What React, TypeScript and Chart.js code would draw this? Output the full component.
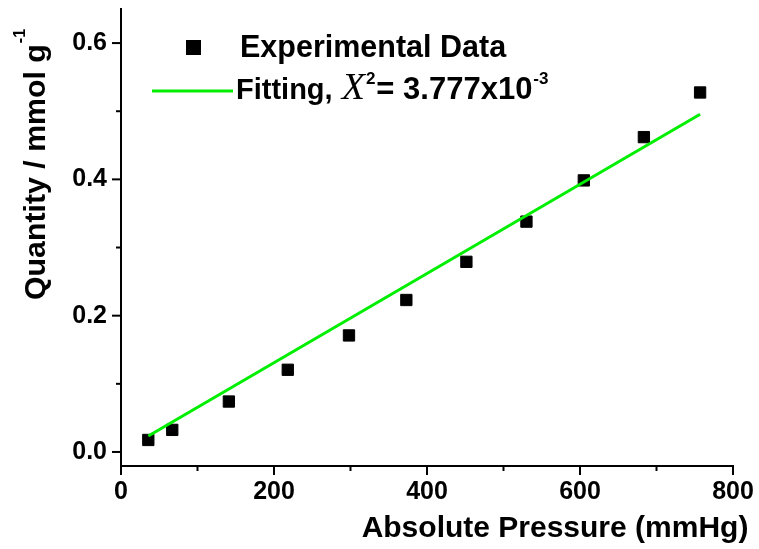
import React, { useEffect, useRef } from 'react';
import { Chart, registerables } from 'chart.js';

Chart.register(...registerables);

// ---- data ----
const pressure = [35.7, 67, 141, 218, 298, 373, 451.5, 530, 605, 683.5, 757];
const quantity = [0.0176, 0.0324, 0.074, 0.1206, 0.171, 0.223, 0.279, 0.338, 0.3985, 0.462, 0.5275];
const fitPressure = [35.7, 757];
const fitQuantity = [0.0235, 0.4956];

const xMajorTicks = [0, 200, 400, 600, 800];
const xMinorTicks = [100, 300, 500, 700];
const yMajorTicks = [0, 0.2, 0.4, 0.6];
const yMinorTicks = [0.1, 0.3, 0.5];

const xTitle = 'Absolute Pressure (mmHg)';
const yTitle = 'Quantity / mmol g';
const yTitleSup = '-1';
const legendData = 'Experimental Data';
const legendFit = 'Fitting, ';
const chiSymbol = 'X';
const chiSup = '2';
const chiValue = '= 3.777x10';
const chiExp = '-3';

const SANS = "'Liberation Sans', Arial, sans-serif";
const SERIF = "'Liberation Serif', 'Times New Roman', serif";
const FIT_COLOR = '#00ee00';

const decorPlugin = {
  id: 'decor',
  afterDraw(chart: any) {
    const { ctx, chartArea, scales } = chart;
    const xs = scales.x;
    const ys = scales.y;
    const line = (x1: number, y1: number, x2: number, y2: number) => {
      ctx.beginPath();
      ctx.moveTo(x1, y1);
      ctx.lineTo(x2, y2);
      ctx.stroke();
    };
    ctx.save();
    ctx.strokeStyle = '#000';
    ctx.lineWidth = 2;
    yMajorTicks.forEach((v) => {
      const p = ys.getPixelForValue(v);
      line(chartArea.left - 9, p, chartArea.left, p);
    });
    yMinorTicks.forEach((v) => {
      const p = ys.getPixelForValue(v);
      line(chartArea.left - 5, p, chartArea.left, p);
    });
    xMajorTicks.forEach((v) => {
      const p = xs.getPixelForValue(v);
      line(p, chartArea.bottom, p, chartArea.bottom + 9);
    });
    xMinorTicks.forEach((v) => {
      const p = xs.getPixelForValue(v);
      line(p, chartArea.bottom, p, chartArea.bottom + 5);
    });

    ctx.fillStyle = '#000';
    ctx.textBaseline = 'alphabetic';

    // x title
    ctx.font = `bold 30px ${SANS}`;
    ctx.textAlign = 'center';
    ctx.fillText(xTitle, 555, 537);

    // y title (rotated)
    ctx.save();
    ctx.translate(45, 300);
    ctx.rotate(-Math.PI / 2);
    ctx.textAlign = 'left';
    ctx.font = `bold 30.3px ${SANS}`;
    ctx.fillText(yTitle, 0, 0);
    const wy = ctx.measureText(yTitle).width;
    ctx.font = `bold 16px ${SANS}`;
    ctx.fillText(yTitleSup, wy + 1, -20);
    ctx.restore();

    // legend
    ctx.textAlign = 'left';
    ctx.fillRect(186, 40, 15, 15);
    ctx.strokeStyle = FIT_COLOR;
    ctx.lineWidth = 3;
    line(152, 91, 233, 91);

    ctx.font = `bold 30.5px ${SANS}`;
    ctx.fillText(legendData, 240, 57);

    const base = 99;
    let x = 236;
    ctx.font = `bold 29px ${SANS}`;
    ctx.fillText(legendFit, x, base);
    x += ctx.measureText(legendFit).width + 1;
    ctx.font = `italic 38px ${SERIF}`;
    ctx.fillText(chiSymbol, x, base);
    x += ctx.measureText(chiSymbol).width + 1;
    ctx.font = `bold 17px ${SANS}`;
    ctx.fillText(chiSup, x, base - 15);
    x += ctx.measureText(chiSup).width + 1;
    ctx.font = `bold 31px ${SANS}`;
    ctx.fillText(chiValue, x, base);
    x += ctx.measureText(chiValue).width + 1;
    ctx.font = `bold 17px ${SANS}`;
    ctx.fillText(chiExp, x, base - 15);

    ctx.restore();
  },
};

export default function App() {
  const canvasRef = useRef<HTMLCanvasElement | null>(null);

  useEffect(() => {
    const canvas = canvasRef.current;
    if (!canvas) return;
    const chart = new Chart(canvas, {
      type: 'scatter',
      data: {
        datasets: [
          {
            label: 'Fitting',
            data: fitPressure.map((x, i) => ({ x, y: fitQuantity[i] })),
            showLine: true,
            borderColor: FIT_COLOR,
            backgroundColor: FIT_COLOR,
            borderWidth: 3,
            pointRadius: 0,
            order: 0,
          },
          {
            label: 'Experimental Data',
            data: pressure.map((x, i) => ({ x, y: quantity[i] })),
            pointStyle: 'rect',
            pointRadius: 8,
            backgroundColor: '#000',
            borderColor: '#000',
            borderWidth: 1,
            order: 1,
          },
        ],
      },
      options: {
        responsive: false,
        animation: false,
        devicePixelRatio: 1,
        events: [],
        layout: { padding: { left: 0, top: 9, right: 26, bottom: 0 } },
        plugins: {
          legend: { display: false },
          tooltip: { enabled: false },
          title: { display: false },
        },
        scales: {
          x: {
            type: 'linear',
            min: 0,
            max: 800,
            afterBuildTicks: (scale: any) => {
              scale.ticks = xMajorTicks.map((v) => ({ value: v }));
            },
            afterFit: (scale: any) => {
              scale.height = 83;
              scale.paddingLeft = 0;
              scale.paddingRight = 0;
              scale.paddingTop = 0;
              scale.paddingBottom = 0;
            },
            grid: { display: false, drawTicks: false },
            border: { display: true, color: '#000', width: 2 },
            ticks: {
              color: '#000',
              padding: 11,
              maxRotation: 0,
              font: { family: SANS, size: 25, weight: 'bold' },
              callback: (v: any) => String(v),
            },
          },
          y: {
            type: 'linear',
            min: -0.0206,
            max: 0.65,
            afterBuildTicks: (scale: any) => {
              scale.ticks = yMajorTicks.map((v) => ({ value: v }));
            },
            afterFit: (scale: any) => {
              scale.width = 121;
              scale.paddingLeft = 0;
              scale.paddingRight = 0;
              scale.paddingTop = 0;
              scale.paddingBottom = 0;
            },
            grid: { display: false, drawTicks: false },
            border: { display: true, color: '#000', width: 2 },
            ticks: {
              color: '#000',
              padding: 14,
              font: { family: SANS, size: 25, weight: 'bold' },
              callback: (v: any) => Number(v).toFixed(1),
            },
          },
        },
      },
      plugins: [decorPlugin],
    } as any);
    return () => chart.destroy();
  }, []);

  return (
    <div style={{ position: 'absolute', left: 0, top: 0, width: 759, height: 549, background: '#fff' }}>
      <canvas ref={canvasRef} width={759} height={549} style={{ width: 759, height: 549, display: 'block' }} />
    </div>
  );
}
